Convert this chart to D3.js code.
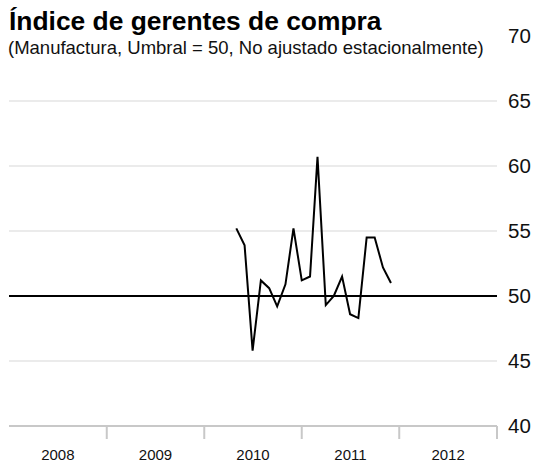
<!DOCTYPE html>
<html>
<head>
<meta charset="utf-8">
<script src="https://cdn.jsdelivr.net/npm/d3@7"></script>
<style>
  body { margin: 0; background: #fff; }
  svg { display: block; font-family: "Liberation Sans", Arial, sans-serif; }
</style>
</head>
<body>
<svg width="548" height="462"></svg>
<script>
// monthly readings, May 2010 .. Dec 2011
var months = ["2010-05","2010-06","2010-07","2010-08","2010-09","2010-10","2010-11","2010-12",
              "2011-01","2011-02","2011-03","2011-04","2011-05","2011-06","2011-07","2011-08",
              "2011-09","2011-10","2011-11","2011-12"]
var pmi = [55.2, 53.9, 45.8, 51.2, 50.6, 49.2, 50.9, 55.2,
           51.2, 51.5, 60.7, 49.3, 50.0, 51.5, 48.6, 48.3,
           54.5, 54.5, 52.2, 51.0]
var years = ["2008","2009","2010","2011","2012","2013"]
var yTicks = [40, 45, 50, 55, 60, 65, 70]
var threshold = 50

var parseMonth = d3.timeParse("%Y-%m")
var parseYear = d3.timeParse("%Y")

var svg = d3.select("svg")

var x = d3.scaleTime()
    .domain([parseYear(years[0]), parseYear(years[years.length-1])])
    .range([9, 497])
var y = d3.scaleLinear().domain([40, 70]).range([426, 36])

var data = months.map(function(m, i){ return {date: parseMonth(m), value: pmi[i]} })

// light gridlines
svg.append("g").selectAll("line")
    .data(yTicks.filter(function(t){ return t != 40 && t != 70 && t != threshold }))
    .enter().append("line")
    .attr("x1", x.range()[0]).attr("x2", x.range()[1])
    .attr("y1", function(d){ return y(d) }).attr("y2", function(d){ return y(d) })
    .attr("stroke", "#ebebeb")
    .attr("stroke-width", 2)

// y labels on the right
svg.append("g").selectAll("text")
    .data(yTicks)
    .enter().append("text")
    .attr("x", 508)
    .attr("y", function(d){ return y(d) })
    .attr("dy", "0.36em")
    .attr("font-size", 20.5)
    .attr("fill", "#111")
    .text(function(d){ return d })

// bottom axis
svg.append("line")
    .attr("x1", x.range()[0]).attr("x2", x.range()[1])
    .attr("y1", y(40)).attr("y2", y(40))
    .attr("stroke", "#c8c8c8").attr("stroke-width", 2)

svg.append("g").selectAll("line")
    .data(years.slice(1))
    .enter().append("line")
    .attr("x1", function(d){ return x(parseYear(d)) })
    .attr("x2", function(d){ return x(parseYear(d)) })
    .attr("y1", y(40)).attr("y2", y(40) + 13)
    .attr("stroke", "#c8c8c8").attr("stroke-width", 2)

svg.append("g").selectAll("text")
    .data(years.slice(0, -1))
    .enter().append("text")
    .attr("x", function(d){
        var a = parseYear(d), b = d3.timeYear.offset(a, 1)
        return (x(a) + x(b)) / 2
    })
    .attr("y", 460)
    .attr("text-anchor", "middle")
    .attr("font-size", 15)
    .attr("fill", "#111")
    .text(function(d){ return d })

// threshold line
svg.append("line")
    .attr("x1", x.range()[0]).attr("x2", x.range()[1])
    .attr("y1", y(threshold)).attr("y2", y(threshold))
    .attr("stroke", "#000").attr("stroke-width", 2)

var valueLine = d3.line()
    .x(function(d){ return x(d.date) })
    .y(function(d){ return y(d.value) })

svg.append("path")
    .datum(data)
    .attr("fill", "none")
    .attr("stroke", "#000")
    .attr("stroke-width", 2)
    .attr("d", valueLine)

// titles
svg.append("text")
    .attr("x", 9).attr("y", 30)
    .attr("font-size", 26.4).attr("font-weight", "bold")
    .attr("fill", "#000")
    .text("Índice de gerentes de compra")
svg.append("text")
    .attr("x", 8).attr("y", 54)
    .attr("font-size", 18.5)
    .attr("fill", "#111")
    .text("(Manufactura, Umbral = 50, No ajustado estacionalmente)")
</script>
</body>
</html>
